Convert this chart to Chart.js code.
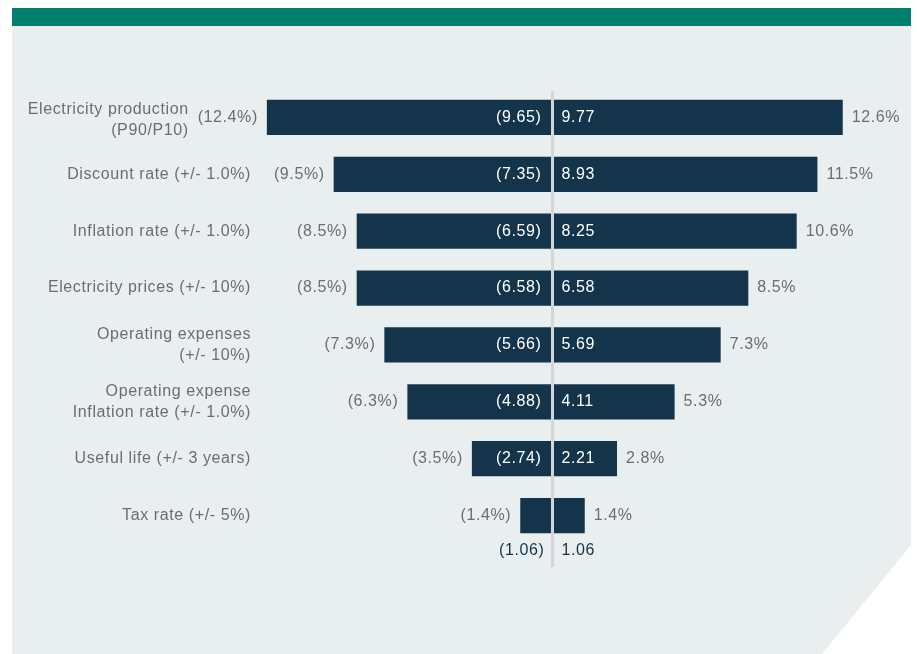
<!DOCTYPE html>
<html><head><meta charset="utf-8">
<script src="https://cdn.jsdelivr.net/npm/chart.js@4/dist/chart.umd.min.js"></script>
<style>html,body{margin:0;padding:0;background:#fff;}#wrap{width:917px;height:654px;position:relative;}</style>
</head><body><div id="wrap"><canvas id="c" width="917" height="654"></canvas></div>
<script>
const categories = [
  ["Electricity production", "(P90/P10)"],
  ["Discount rate (+/- 1.0%)"],
  ["Inflation rate (+/- 1.0%)"],
  ["Electricity prices (+/- 10%)"],
  ["Operating expenses", "(+/- 10%)"],
  ["Operating expense", "Inflation rate (+/- 1.0%)"],
  ["Useful life (+/- 3 years)"],
  ["Tax rate (+/- 5%)"]
];
const lowPct = [-12.4, -9.5, -8.5, -8.5, -7.3, -6.3, -3.5, -1.4];
const highPct = [12.6, 11.5, 10.6, 8.5, 7.3, 5.3, 2.8, 1.4];
const lowVal = [9.65, 7.35, 6.59, 6.58, 5.66, 4.88, 2.74, 1.06];
const highVal = [9.77, 8.93, 8.25, 6.58, 5.69, 4.11, 2.21, 1.06];
const labelNames = categories.map(c => c.join(" "));

const FONT = '"Liberation Sans", Arial, sans-serif';
const GRAY = '#6a6e6f';
const NAVY = '#13344a';

const bgPlugin = {
  id: 'bg',
  beforeDraw(chart) {
    const ctx = chart.ctx;
    ctx.save();
    ctx.fillStyle = '#ffffff';
    ctx.fillRect(0, 0, 917, 654);
    ctx.fillStyle = '#e9efef';
    ctx.beginPath();
    ctx.moveTo(12, 26); ctx.lineTo(911, 26); ctx.lineTo(911, 545);
    ctx.lineTo(822, 654); ctx.lineTo(12, 654); ctx.closePath(); ctx.fill();
    ctx.fillStyle = '#007f6f';
    ctx.fillRect(12, 8, 899, 18);
    ctx.restore();
  }
};

const labelPlugin = {
  id: 'labels',
  afterDatasetsDraw(chart) {
    const ctx = chart.ctx;
    const xs = chart.scales.x, ys = chart.scales.y;
    const x0 = xs.getPixelForValue(0);
    ctx.save();
    ctx.strokeStyle = '#d2d6d6';
    ctx.lineWidth = 3;
    ctx.beginPath(); ctx.moveTo(x0, 91); ctx.lineTo(x0, 567); ctx.stroke();
    ctx.font = '16px ' + FONT;
    if ('letterSpacing' in ctx) ctx.letterSpacing = '0.6px';
    ctx.textBaseline = 'middle';
    const n = categories.length;
    for (let i = 0; i < n; i++) {
      const y = ys.getPixelForValue(i);
      const xl = xs.getPixelForValue(lowPct[i]);
      const xr = xs.getPixelForValue(highPct[i]);
      ctx.fillStyle = GRAY;
      ctx.textAlign = 'right';
      const lowTxt = '(' + Math.abs(lowPct[i]).toFixed(1) + '%)';
      ctx.fillText(lowTxt, xl - 9, y);
      const lowW = ctx.measureText(lowTxt).width;
      ctx.textAlign = 'left';
      ctx.fillText(highPct[i].toFixed(1) + '%', xr + 9, y);
      ctx.textAlign = 'right';
      let rx = Math.min(251, xl - 9 - lowW - 9);
      const lines = categories[i];
      const lh = 21;
      const startY = y - (lines.length - 1) * lh / 2 + (i === 0 ? 3 : 0);
      lines.forEach((ln, k) => ctx.fillText(ln, rx, startY + k * lh));
      const lv = '(' + lowVal[i].toFixed(2) + ')';
      const hv = highVal[i].toFixed(2);
      const fitsL = (x0 - xl) > ctx.measureText(lv).width + 16;
      const fitsR = (xr - x0) > ctx.measureText(hv).width + 16;
      if (fitsL && fitsR) {
        ctx.fillStyle = '#ffffff';
        ctx.textAlign = 'right'; ctx.fillText(lv, x0 - 11, y);
        ctx.textAlign = 'left'; ctx.fillText(hv, x0 + 9, y);
      } else {
        ctx.fillStyle = NAVY;
        const yb = y + 35;
        ctx.textAlign = 'right'; ctx.fillText(lv, x0 - 8, yb);
        ctx.textAlign = 'left'; ctx.fillText(hv, x0 + 9, yb);
      }
    }
    ctx.restore();
  }
};

new Chart(document.getElementById('c'), {
  type: 'bar',
  data: {
    labels: labelNames,
    datasets: [
      { data: lowPct, backgroundColor: NAVY, borderWidth: 0, barPercentage: 1, categoryPercentage: 0.62 },
      { data: highPct, backgroundColor: NAVY, borderWidth: 0, barPercentage: 1, categoryPercentage: 0.62 }
    ]
  },
  options: {
    indexAxis: 'y',
    responsive: false,
    animation: false,
    devicePixelRatio: 1,
    layout: { padding: { left: 230, right: 42, top: 89, bottom: 110 } },
    scales: {
      x: { display: false, min: -14, max: 14, stacked: true },
      y: { display: false, stacked: true }
    },
    plugins: { legend: { display: false }, tooltip: { enabled: false } }
  },
  plugins: [bgPlugin, labelPlugin]
});
</script></body></html>
